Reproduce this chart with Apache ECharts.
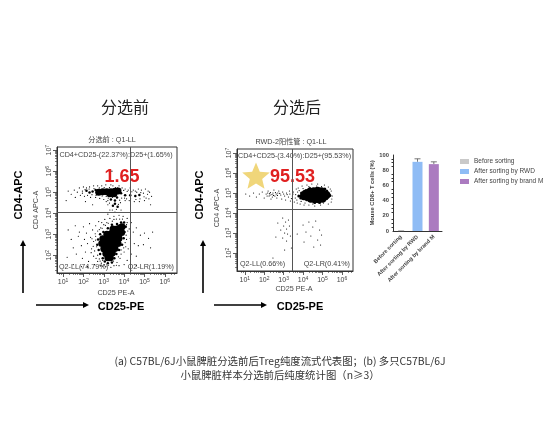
<!DOCTYPE html>
<html><head><meta charset="utf-8">
<style>html,body{margin:0;padding:0;background:#fff}#c{width:560px;height:440px}</style>
<script src="https://cdn.jsdelivr.net/npm/echarts@6/dist/echarts.min.js"></script>
</head><body><div id="c"></div>
<script>
// flow plots: values are log10 of fluorescence
const decadesX=[1,2,3,4,5,6];
const decadesY=[2,3,4,5,6,7];
const gateBefore=[4.3,4.05];
const gateAfter=[3.42,4.2];
const beforeDense=[[2.75,5],[2.95,5.02],[3.15,5.02],[3.35,5.02],[3.55,5.04],[3.7,5.05],[3.3,4.92],[3.5,4.92],
[3.45,3.25],[3.65,3.25],[3.8,3.3],[3.9,3.35],[3.15,3.0],[3.35,3.02],[3.55,3],[3.75,3.02],[3.88,3.08],[2.95,2.78],[3.15,2.78],[3.35,2.8],[3.55,2.78],[3.75,2.8],[2.9,2.55],[3.1,2.55],[3.3,2.55],[3.5,2.55],[3.7,2.55],[3.0,2.3],[3.2,2.3],[3.4,2.3],[3.55,2.32],[3.1,2.08],[3.28,2.08],[3.42,2.1],[3.2,1.88],[3.32,1.88]];
const beforeMid=[[2.45,5.03],[2.3,4.98],[2.15,5.07],[2.6,5.1],[3.85,4.95],[4.05,4.85],[4.3,4.85],[4.55,4.82],[4.75,4.87],[3.35,4.65],[3.55,4.6],[3.65,4.75],[3.45,4.35],[3.68,4.3],[3.55,4.45],
[2.72,2.75],[2.68,2.5],[2.75,2.25],[2.82,2.05],[2.95,1.85],[3.05,1.7],[3.2,1.62],[3.4,1.65],[3.52,1.85],[3.62,2.05],[3.75,2.25],[3.9,2.5],[3.98,2.8],[4.02,3.1],[4.08,3.35],[4.0,3.55],[3.85,3.55],[3.65,3.48],[3.4,3.45],[3.2,3.28],[2.98,3.1],[2.82,3.0]];
const beforeSparse=[[1.25,5.05],[1.4,4.9],[1.55,5.1],[1.6,4.75],[1.7,5.0],[1.8,5.2],[1.85,4.85],[1.95,5.05],[2,5.25],[2.05,4.8],[2.15,5.2],[2.2,4.85],[2.3,5.25],[2.35,4.75],[2.5,5.3],[2.6,4.75],[2.7,5.3],[2.8,4.7],[2.9,5.3],[3,4.65],[3.1,5.35],[3.2,4.6],[3.35,5.35],[3.45,5.3],[3.75,5.3],[3.9,5.2],[4.05,5.15],[4.2,5.1],[4.3,5.2],[4.45,5.1],[4.55,5.05],[4.7,5.15],[4.85,5.1],[4.95,4.95],[5.05,5.15],[5.15,4.9],[5.25,5],[5.35,4.8],[4.05,4.6],[4.25,4.6],[4.5,4.55],[4.75,4.55],[5,4.6],[5.3,4.4],[3.2,4.4],[3.3,4.15],[3.85,4.15],[3.55,4.05],[3.2,3.95],[3.5,3.85],[3.75,3.9],[3.95,3.85],[4.15,3.75],[4.35,3.55],[4.25,3.25],[4.45,3.1],[4.6,3.3],[4.8,2.95],[5,3.05],[5.2,2.8],[5.4,3.1],[4.3,2.8],[4.5,2.55],[4.7,2.45],[4.95,2.5],[5.3,2.35],[4.2,2.3],[4.35,2.05],[4.6,1.95],[4.15,1.75],[4,1.55],[3.75,1.5],[1.25,3.2],[1.4,2.75],[1.5,2.35],[1.6,3.4],[1.65,2.05],[1.75,2.9],[1.8,3.1],[1.9,2.45],[1.95,1.85],[2,3.35],[2.05,2.75],[2.1,2.15],[2.15,3.05],[2.2,2.55],[2.25,1.7],[2.3,3.5],[2.35,2.85],[2.4,2.3],[2.45,3.2],[2.5,2.65],[2.5,1.95],[2.55,1.55],[2.6,3.4],[2.6,2.9],[2.65,2.4],[2.7,3.15],[2.7,2.0],[2.7,1.7],[2.75,3.6],[2.85,3.3],[2.85,2.75],[2.85,1.5],[2.9,3.55],[2.95,1.75],[3,3.45],[3.05,3.7],[3.1,1.45],[3.15,3.55],[3.3,3.75],[3.35,1.42],[3.5,3.7],[3.5,1.5],[3.65,1.65],[3.8,1.85],[3.85,2.25],[4,2.15],[4.05,2.6],[4.1,2.95],[4.15,3.55],[1.2,1.9],[1.5,1.55],[1.9,1.45],[2.2,1.45],[4.6,1.5],[2.45,4.4],[2.1,4.55],[1.15,4.6],[3.4,6.0],
[2.55,2.2],[2.6,2.72],[2.58,3.02],[2.48,2.42],[2.42,2.78],[2.62,1.85],[2.38,2.12],[2.78,1.82],[2.88,1.62],[2.78,3.22],[2.92,3.28],[3.08,3.42],[3.22,3.52],[3.42,3.62],[3.62,3.72],[3.78,3.72],[3.92,3.72],[4.12,3.45],[4.18,3.15],[4.12,2.75],[4.08,2.4],[3.98,2.35],[3.85,2.05],[3.72,1.92],[3.62,1.52],[3.48,1.72],[3.22,1.52],[3.02,1.55],[2.92,1.48],[2.82,1.72],
[1.95,4.95],[2.08,5.12],[2.28,5.15],[2.42,4.88],[2.52,5.17],[2.62,4.85],[2.78,5.2],[2.92,4.82],[3.02,5.22],[3.12,4.8],[3.28,5.22],[3.42,4.75],[3.58,5.22],[3.68,5.2],[3.82,5.15],[3.88,4.72],[3.98,5.08],[4.02,4.72],[4.15,5.03],[4.12,4.68],[4.38,5.02],[4.32,4.68],[4.62,5.0],[4.58,4.65],[4.82,4.98],[4.78,4.68],[4.98,4.78],[5.08,4.72],[5.18,5.05],[5.22,4.68],[3.12,4.55],[3.22,4.72],[3.28,4.48],[3.42,4.15],[3.62,4.18],[3.72,4.42],[3.82,4.5],[3.78,4.62]];
const afterDense=[[4.25,4.88],[4.45,4.88],[4.65,4.9],[4.85,4.9],[5.05,4.9],[5.2,4.9],[4.35,5.05],[4.55,5.08],[4.75,5.1],[4.95,5.08],[4.4,4.72],[4.6,4.7],[4.8,4.7],[5,4.72],[4.05,4.85],[4.12,4.95]];
const afterMid=[[3.78,4.85],[3.88,4.75],[3.92,5],[4.15,5.12],[4.18,4.66],[5.22,4.72],[5.22,5.1],[5.38,4.88],[5.12,5.2],[4.35,5.22],[4.6,4.52],[4.85,4.52]];
const afterSparse=[[1.05,4.95],[1.25,4.85],[1.45,5.0],[1.6,4.8],[1.75,4.95],[1.9,5.05],[2,4.75],[2.1,4.95],[2.2,5.1],[2.3,4.9],[2.35,4.7],[2.45,5],[2.5,5.15],[2.55,4.85],[2.65,4.75],[2.7,5.0],[2.75,5.1],[2.85,4.9],[2.9,4.7],[2.95,5.05],[3.05,4.85],[3.1,4.65],[3.15,5],[3.25,4.8],[3.3,5.1],[3.35,4.6],[3.45,4.85],[3.5,5.05],[3.55,4.55],[3.6,4.75],[3.65,5.2],[3.7,4.5],[3.75,5.25],[3.85,4.45],[3.95,5.35],[4.05,4.4],[4.2,5.4],[4.3,4.4],[4.45,5.45],[4.6,4.35],[4.75,5.45],[4.9,4.4],[5.1,5.4],[5.3,5.3],[5.45,5.1],[5.5,4.85],[5.45,4.55],[5.3,4.45],[2.15,4.85],[2.25,4.85],[2.42,4.8],[2.58,5.02],[2.62,4.95],[2.32,5.02],
[2.4,4.92],[2.48,4.88],[2.18,5],[2.28,4.97],[2.68,4.88],[2.8,4.98],[3,4.95],[3.18,4.92],[3.32,4.95],[3.4,4.72],[3.48,4.95],[3.62,4.92],[3.68,4.65],[3.72,5.05],[3.8,5.12],[3.9,4.58],[4,5.22],[4.1,4.5],[4.3,5.32],[4.5,4.45],[4.7,5.35],[4.95,5.32],[5.05,4.5],[5.4,5.2],[5.48,4.7],
[2.7,3.5],[2.85,3.15],[2.95,3.75],[2.95,2.75],[3,3.35],[3.05,3.0],[3.1,3.55],[3.15,2.6],[3.15,3.2],[3.2,2.95],[3.25,3.65],[3.3,3.35],[3.35,2.85],[3.4,2.25],[3.05,2.15],[2.6,2.8],[2.45,1.75],[4,3.4],[4.15,3.05],[4.3,3.55],[4.4,2.85],[4.5,3.3],[4.65,3.6],[4.75,2.65],[4.85,3.15],[4.95,2.9],[4.05,2.55],[3.7,2.95],[4.55,2.3],[4.9,2.4]];
const minorLogs=[2,3,4,5,6,7,8,9];
// sorted-purity bar chart
const barCats=['Before sorting','After sorting by RWD','After sorting by brand M'];
const barValues=[0,91,88];
const barErrors=[0,4,3];
const barColors=['#c9c9c9','#8fbcf5','#ab7bc0'];

const minorX=decadesX.flatMap(d=>minorLogs.map(k=>d+Math.log10(k))).concat([0.8,0.9]);
const minorY=[1,...decadesY].flatMap(d=>minorLogs.map(k=>d+Math.log10(k)));
const lab={rich:{b:{fontSize:7,color:'#444',fontFamily:'Liberation Sans'},s:{fontSize:5,color:'#444',fontFamily:'Liberation Sans',verticalAlign:'top',padding:[0,0,3,0]}}};
const fmt=v=>`{b|10}{s|${v}}`;
function xA(g,min,max){return [
 {type:'value',gridIndex:g,min,max,position:'bottom',splitLine:{show:false},axisLine:{show:true,onZero:false,lineStyle:{color:'#333',width:1}},
  axisTick:{show:true,length:4,lineStyle:{color:'#333',width:0.8},customValues:decadesX},
  axisLabel:{show:true,margin:5,customValues:decadesX,formatter:fmt,...lab}},
 {type:'value',gridIndex:g,min,max,position:'bottom',splitLine:{show:false},axisLine:{show:false},
  axisTick:{show:true,length:2,lineStyle:{color:'#333',width:0.6},customValues:minorX.filter(v=>v>min&&v<max)},
  axisLabel:{show:false}}];}
function yA(g,min,max){return [
 {type:'value',gridIndex:g,min,max,position:'left',splitLine:{show:false},axisLine:{show:true,onZero:false,lineStyle:{color:'#333',width:1}},
  axisTick:{show:true,length:4,lineStyle:{color:'#333',width:0.8},customValues:decadesY},
  axisLabel:{show:true,margin:4,rotate:90,customValues:decadesY,formatter:fmt,...lab}},
 {type:'value',gridIndex:g,min,max,position:'left',splitLine:{show:false},axisLine:{show:false},
  axisTick:{show:true,length:2,lineStyle:{color:'#333',width:0.6},customValues:minorY.filter(v=>v>min&&v<max)},
  axisLabel:{show:false}}];}
function pts(i,data,size,extra){return Object.assign({type:'scatter',xAxisIndex:i,yAxisIndex:i,data,symbolSize:size,silent:true,
  itemStyle:{color:'#000',opacity:1},animation:false},extra||{});}
function gate(g){return {silent:true,symbol:'none',animation:false,label:{show:false},lineStyle:{color:'#555',width:1,type:'solid'},
  data:[{xAxis:g[0]},{yAxis:g[1]}]};}

const txt=(x,y,s,o)=>({type:'text',x,y,silent:true,style:Object.assign({text:s,fontSize:7.2,fill:'#444',
  fontFamily:'"Liberation Sans","Noto Sans CJK SC"',align:'center',verticalAlign:'middle'},o||{})});
const rot=(x,y,s,o)=>Object.assign(txt(x,y,s,o),{rotation:Math.PI/2});
const cjk='"Noto Sans CJK SC"';
const arrow=(x1,y1,x2,y2)=>({type:'group',silent:true,children:[
 {type:'line',shape:{x1,y1,x2,y2},style:{stroke:'#000',lineWidth:1.6}},
 {type:'polygon',shape:{points:y1===y2?[[x2+5,y2],[x2-1,y2-3],[x2-1,y2+3]]:[[x2,y2-5],[x2-3,y2+1],[x2+3,y2+1]]},style:{fill:'#000'}}]});
const starPoints=(cx,cy,R,r)=>Array.from({length:10},(_,i)=>{const a=-Math.PI/2+i*Math.PI/5,q=i%2?r:R;return [cx+q*Math.cos(a),cy+q*Math.sin(a)];});

const option={animation:false,backgroundColor:'#fff',
 grid:[
  {left:57,top:147,width:120,height:126,show:true,borderColor:'#333',borderWidth:1,backgroundColor:'transparent'},
  {left:237,top:149,width:116,height:122,show:true,borderColor:'#333',borderWidth:1,backgroundColor:'transparent'},
  {left:393,top:155,width:49,height:76,show:false}],
 xAxis:[...xA(0,0.7,6.6),...xA(1,0.6,6.57),
  {type:'category',gridIndex:2,data:barCats,axisLine:{lineStyle:{color:'#333',width:1}},
   axisTick:{length:3,alignWithLabel:true,lineStyle:{color:'#333'}},
   axisLabel:{interval:0,rotate:45,fontSize:5.5,fontWeight:'bold',margin:5,color:'#444',fontFamily:'Liberation Sans'}}],
 yAxis:[...yA(0,1.15,7.15),...yA(1,1.1,7.2),
  {type:'value',gridIndex:2,min:0,max:100,interval:20,splitLine:{show:false},
   name:'Mouse CD8+ T cells (%)',nameLocation:'middle',nameGap:18,nameTextStyle:{fontSize:5.8,fontWeight:'bold',color:'#444',fontFamily:'Liberation Sans'},
   axisLine:{show:true,lineStyle:{color:'#333',width:1}},axisTick:{length:3,lineStyle:{color:'#333'}},
   minorTick:{show:true,splitNumber:4,length:1.5,lineStyle:{color:'#333'}},minorSplitLine:{show:false},
   axisLabel:{fontSize:5.8,fontWeight:'bold',margin:4,color:'#444',fontFamily:'Liberation Sans'}}],
 legend:{left:455,top:153,orient:'vertical',itemWidth:9,itemHeight:5,itemGap:3,icon:'rect',selectedMode:false,
  textStyle:{fontSize:6.5,color:'#444',fontFamily:'Liberation Sans'},data:barCats},
 series:[
  pts(0,beforeDense,7,{markLine:gate(gateBefore)}),pts(0,beforeMid,2.5),pts(0,beforeSparse,1.2),
  pts(2,afterDense,8.5,{markLine:gate(gateAfter)}),pts(2,afterMid,3),pts(2,afterSparse,1.2),
  ...barCats.map((c,i)=>({type:'bar',name:c,xAxisIndex:4,yAxisIndex:4,barWidth:10,barGap:'-100%',silent:true,
    itemStyle:{color:barColors[i]},data:barValues.map((v,j)=>j===i?v:null)})),
  {type:'custom',xAxisIndex:4,yAxisIndex:4,silent:true,data:barCats.map((c,i)=>[i,barValues[i],barValues[i]+barErrors[i]]),
   renderItem:(p,api)=>{const a=api.coord([api.value(0),api.value(1)]),b=api.coord([api.value(0),api.value(2)]);
    return {type:'group',children:[
     {type:'line',shape:{x1:a[0],y1:a[1],x2:b[0],y2:b[1]},style:{stroke:'#555',lineWidth:0.8}},
     {type:'line',shape:{x1:b[0]-3,y1:b[1],x2:b[0]+3,y2:b[1]},style:{stroke:'#555',lineWidth:0.8}}]};}}
 ],
 graphic:[
  txt(125,107,'分选前',{fontSize:16,fill:'#222',fontFamily:cjk}),
  txt(297,107,'分选后',{fontSize:16,fill:'#222',fontFamily:cjk}),
  txt(112,140,'分选前 : Q1-LL'),txt(291,142,'RWD-2阳性管 : Q1-LL'),
  txt(116,155,'CD4+CD25-(22.37%):D25+(1.65%)'),
  txt(59,267,'Q2-LL(74.79%)',{align:'left'}),txt(174,267,'Q2-LR(1.19%)',{align:'right'}),
  txt(294.5,156,'CD4+CD25-(3.40%):D25+(95.53%)'),
  txt(240,264,'Q2-LL(0.66%)',{align:'left'}),txt(350,264,'Q2-LR(0.41%)',{align:'right'}),
  txt(116,293,'CD25 PE-A'),txt(294,289,'CD25 PE-A'),
  rot(36,210,'CD4 APC-A'),rot(217,208,'CD4 APC-A'),
  {type:'polygon',silent:true,shape:{points:starPoints(256,177,14.5,6.5)},style:{fill:'#f0d67a'}},
  txt(122,177,'1.65',{fontSize:18,fontWeight:'bold',fill:'#e02020'}),
  txt(292.5,177,'95.53',{fontSize:18,fontWeight:'bold',fill:'#e02020'}),
  rot(19,195,'CD4-APC',{fontSize:11,fontWeight:'bold',fill:'#000'}),
  rot(200,195,'CD4-APC',{fontSize:11,fontWeight:'bold',fill:'#000'}),
  txt(121,307,'CD25-PE',{fontSize:11,fontWeight:'bold',fill:'#000'}),
  txt(300,307,'CD25-PE',{fontSize:11,fontWeight:'bold',fill:'#000'}),
  arrow(23,293,23,245),arrow(203,293,203,245),arrow(36,305,84,305),arrow(214,305,262,305),
  txt(280,361,'(a) C57BL/6J小鼠脾脏分选前后Treg纯度流式代表图；(b) 多只C57BL/6J',{fontSize:10.4,fill:'#333',fontFamily:cjk}),
  txt(280,375,'小鼠脾脏样本分选前后纯度统计图（n≥3）',{fontSize:10.4,fill:'#333',fontFamily:cjk})
 ]};
const chart=echarts.init(document.getElementById('c'),null,{renderer:'canvas'});
chart.setOption(option);
</script></body></html>
